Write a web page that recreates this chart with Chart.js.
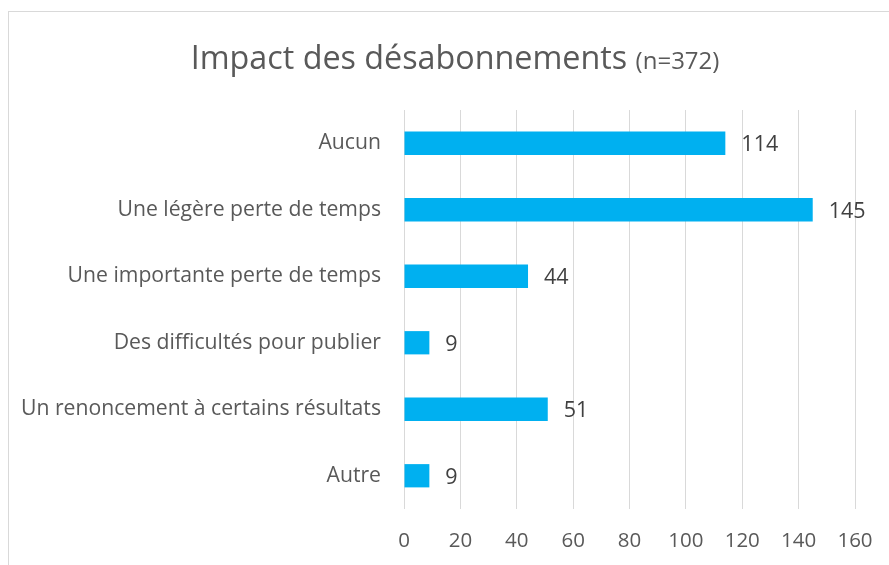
<!DOCTYPE html>
<html>
<head>
<meta charset="utf-8">
<script src="https://cdn.jsdelivr.net/npm/chart.js@4"></script>
<style>
  html, body { margin: 0; padding: 0; background: #fff; }
  #wrap { width: 889px; height: 565px; position: relative; }
</style>
</head>
<body>
<div id="wrap"><canvas id="chart"></canvas></div>
<script>
// Data
const categories = [
    'Aucun',
    'Une légère perte de temps',
    'Une importante perte de temps',
    'Des difficultés pour publier',
    'Un renoncement à certains résultats',
    'Autre'
];
const values = [114, 145, 44, 9, 51, 9];
const titleMain = 'Impact des désabonnements';
const titleSub = '(n=372)';

const FONT = "'Open Sans', sans-serif";

// Chart frame + two-size title
const framePlugin = {
    id: 'frame',
    beforeDraw(chart) {
        const c = chart.ctx;
        c.save();
        c.strokeStyle = '#d9d9d9';
        c.lineWidth = 1;
        c.strokeRect(8.5, 11.5, 1000, 1000);
        c.restore();
    },
    afterDraw(chart) {
        const c = chart.ctx;
        c.save();
        c.fillStyle = '#595959';
        c.textBaseline = 'alphabetic';
        c.font = '32.3px ' + FONT;
        const w1 = c.measureText(titleMain + ' ').width;
        c.font = '24px ' + FONT;
        const w2 = c.measureText(titleSub).width;
        let x = 455 - (w1 + w2) / 2;
        c.textAlign = 'left';
        c.font = '32.3px ' + FONT;
        c.fillText(titleMain + ' ', x, 69);
        c.font = '24px ' + FONT;
        c.fillText(titleSub, x + w1, 69);
        c.restore();
    }
};

// value labels at the end of each bar
const valueLabels = {
    id: 'valueLabels',
    afterDatasetsDraw(chart) {
        const c = chart.ctx;
        const meta = chart.getDatasetMeta(0);
        c.save();
        c.fillStyle = '#404040';
        c.font = '21.5px ' + FONT;
        c.textAlign = 'left';
        c.textBaseline = 'middle';
        meta.data.forEach((bar, i) => {
            c.fillText(values[i], bar.x + 16, bar.y + 2);
        });
        c.restore();
    }
};

new Chart(document.getElementById('chart'), {
    type: 'bar',
    data: {
        labels: categories,
        datasets: [{
            data: values,
            backgroundColor: '#00b0f0',
            borderWidth: 0,
            categoryPercentage: 1,
            barPercentage: 0.35
        }]
    },
    options: {
        indexAxis: 'y',
        responsive: true,
        maintainAspectRatio: false,
        animation: false,
        layout: { padding: { top: 110, right: 34, bottom: 0, left: 0 } },
        plugins: {
            legend: { display: false },
            tooltip: { enabled: false }
        },
        scales: {
            x: {
                min: 0,
                max: 160,
                ticks: {
                    stepSize: 20,
                    color: '#595959',
                    font: { family: FONT, size: 20.5 },
                    padding: 20
                },
                grid: { color: '#d9d9d9', lineWidth: 1, drawTicks: false },
                border: { display: false },
                afterFit(scale) {
                    scale.height = 56;
                    scale.paddingLeft = 0;
                    scale.paddingRight = 0;
                }
            },
            y: {
                ticks: {
                    color: '#595959',
                    font: { family: FONT, size: 21.2 },
                    padding: 15
                },
                grid: { display: false },
                border: { display: false },
                afterFit(scale) { scale.width = 404; }
            }
        }
    },
    plugins: [framePlugin, valueLabels]
});
</script>
</body>
</html>
